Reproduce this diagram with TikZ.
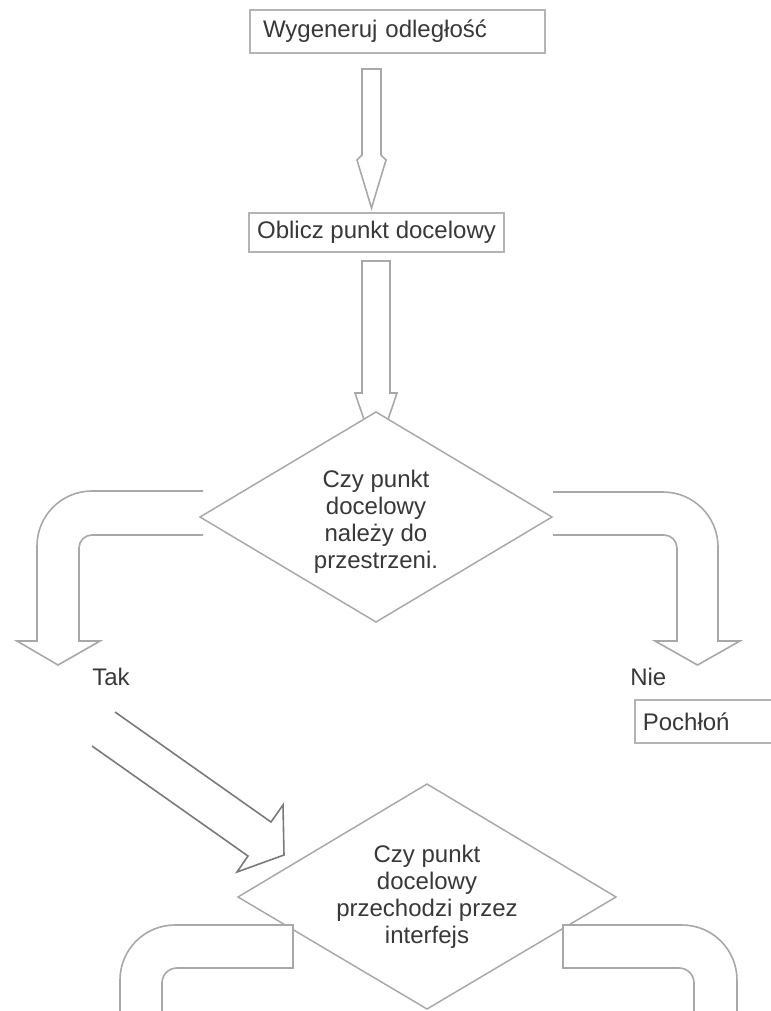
\documentclass[tikz,border=0pt]{standalone}
\usepackage{fontspec}
\setmainfont{Liberation Sans}
\definecolor{linegray}{HTML}{A8A8A8}
\definecolor{boxgray}{HTML}{B4B4B4}
\definecolor{textgray}{HTML}{383838}
\definecolor{diaggray}{HTML}{7A7A7A}
\begin{document}
\begin{tikzpicture}[x=0.75pt,y=-0.75pt,
  blockarrow/.style={draw=linegray, line width=1.2pt, line join=miter},
  diag/.style={draw=linegray, line width=1.1pt, fill=white},
  txt/.style={text=textgray, font=\fontsize{18}{20.25}\selectfont, inner sep=0pt},
  boxst/.style={draw=boxgray, line width=1.2pt, fill=white, inner ysep=0pt}]
\useasboundingbox (0,0) rectangle (771,1011);
\clip (0,0) rectangle (771,1011);

% boxes
\node[boxst, txt, inner xsep=9.75pt, minimum width=221.25pt, minimum height=32.25pt,
      text width=201.75pt, align=left] (b1) at (397.5,31.5) {Wygeneruj odległość};
\node[boxst, txt, inner xsep=3pt, minimum width=191.25pt, minimum height=29.25pt,
      align=center] (b2) at (376.5,232.5) {Oblicz punkt docelowy};

% arrow box1 -> box2
\draw[blockarrow] (362,69) -- (362,155) -- (357,160) -- (371.5,208) -- (386,160) -- (381,155) -- (381,69) -- cycle;

% arrow box2 -> diamond 1
\draw[blockarrow] (362,261) -- (362,393) -- (355,393) -- (376,455) -- (397,393) -- (390,393) -- (390,261) -- cycle;

% diamond 1
\draw[diag] (200,517) -- (376,412) -- (552,517) -- (376,622) -- cycle;
\node[txt, align=center] (q1) at (376,522) {Czy punkt\\docelowy\\należy do\\przestrzeni.};

% Tak arrow (left)
\draw[blockarrow] (203,491) -- (92,491) .. controls (61.6,491) and (37,515.6) .. (37,546)
  -- (37,641) -- (17,641) -- (58,665) -- (100,641) -- (79,641) -- (79,548)
  .. controls (79,540.8) and (84.8,535) .. (92,535) -- (203,535);
\node[txt, anchor=west] (tak) at (92,677) {Tak};

% Nie arrow (right)
\draw[blockarrow] (553,492) -- (663,492) .. controls (693.4,492) and (718,516.6) .. (718,547)
  -- (718,641) -- (740,641) -- (697.5,665) -- (655,641) -- (677,641) -- (677,548)
  .. controls (677,540.8) and (671.2,535) .. (664,535) -- (553,535);
\node[txt, anchor=west] (nie) at (630,677) {Nie};

% Pochłoń box
\node[boxst, txt, anchor=north west, inner xsep=6pt, minimum width=150pt, minimum height=32.25pt,
      text width=138pt, align=left] (p) at (634,699) {Pochłoń};

% diagonal arrow
\draw[draw=diaggray, line width=1.2pt, line join=miter] (115,712) -- (271,822) -- (283,805) -- (284,855)
  -- (237,872) -- (248,856) -- (92,746);

% diamond 2
\draw[diag] (238,897) -- (427,784) -- (616,897) -- (427,1009) -- cycle;

% bottom arrows
\draw[blockarrow, fill=white] (293,925) -- (175,925) .. controls (144.6,925) and (120,949.6) .. (120,980)
  -- (120,1030) -- (162,1030) -- (162,983) .. controls (162,974.7) and (168.7,968) .. (177,968)
  -- (293,968) -- cycle;
\draw[blockarrow, fill=white] (563,925) -- (682,925) .. controls (712.4,925) and (737,949.6) .. (737,980)
  -- (737,1030) -- (694,1030) -- (694,983) .. controls (694,974.7) and (687.3,968) .. (679,968)
  -- (563,968) -- cycle;

\node[txt, align=center] (q2) at (427,896.5) {Czy punkt\\docelowy\\przechodzi przez\\interfejs};
\end{tikzpicture}
\end{document}
